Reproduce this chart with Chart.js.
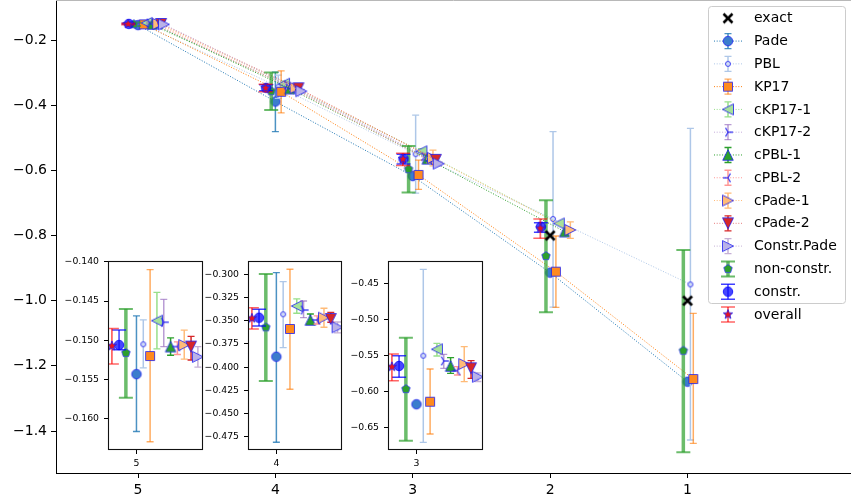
<!DOCTYPE html>
<html>
<head>
<meta charset="utf-8">
<script src="https://cdn.jsdelivr.net/npm/chart.js@4.4.0/dist/chart.umd.min.js"></script>
<style>
  html, body { margin: 0; padding: 0; background: #fff; }
  #wrap { position: relative; width: 851px; height: 504px; overflow: hidden; }
  #wrap canvas { position: absolute; }
</style>
</head>
<body>
<div id="wrap">
  <canvas id="main" width="851" height="504" style="left:0;top:0;width:851px;height:504px"></canvas>
  <canvas id="in5" width="146" height="225" style="left:58px;top:255px;width:146px;height:225px"></canvas>
  <canvas id="in4" width="145" height="225" style="left:198px;top:255px;width:145px;height:225px"></canvas>
  <canvas id="in3" width="146" height="225" style="left:338px;top:255px;width:146px;height:225px"></canvas>
</div>
<script>
// categories (x axis, left to right)
const CATEGORIES = [5, 4, 3, 2, 1];
const MAIN_X_TICKS = [5, 4, 3, 2, 1];
const MAIN_Y_TICKS = [-1.4, -1.2, -1.0, -0.8, -0.6, -0.4, -0.2];
const INSET5_Y_TICKS = [-0.160, -0.155, -0.150, -0.145, -0.140];
const INSET4_Y_TICKS = [-0.475, -0.450, -0.425, -0.400, -0.375, -0.350, -0.325, -0.300];
const INSET3_Y_TICKS = [-0.65, -0.60, -0.55, -0.50, -0.45];

// values per category (5,4,3,2,1); Lo / Hi are the error bar ends
const exactVal = [null, null, null, -0.800, -1.000];

const padeVal = [-0.1543, -0.3888, -0.6176, -0.9140, -1.2487];
const padeLo  = [-0.1616, -0.4810, null, null, null];
const padeHi  = [-0.1469, -0.2983, null, null, null];

const pblVal = [-0.1505, -0.3431, -0.5503, -0.7490, -0.9500];
const pblLo  = [-0.1535, -0.3791, -0.6702, -1.0200, -1.4276];
const pblHi  = [-0.1474, -0.3080, -0.4306, -0.4810, -0.4710];

const kp17Val = [-0.1520, -0.3589, -0.6140, -0.9110, -1.2404];
const kp17Lo  = [-0.1629, -0.4239, -0.6587, -1.0205, -1.4380];
const kp17Hi  = [-0.1410, -0.2946, -0.5687, -0.8015, -1.0390];

const ckp17aVal = [-0.1475, -0.3342, -0.5414, -0.7630, null];
const ckp17aLo  = [-0.1511, -0.3420, -0.5507, null, null];
const ckp17aHi  = [-0.1439, -0.3266, -0.5331, null, null];

const ckp17bVal = [-0.1477, -0.3385, -0.5576, null, null];
const ckp17bLo  = [-0.1508, -0.3468, -0.5677, null, null];
const ckp17bHi  = [-0.1448, -0.3288, -0.5483, null, null];

const cpblaVal = [-0.1508, -0.3492, -0.5645, -0.7880, null];
const cpblaLo  = [-0.1519, -0.3536, -0.5747, null, null];
const cpblaHi  = [-0.1497, -0.3428, -0.5530, null, null];

const cpblbVal = [-0.1508, -0.3492, -0.5710, null, null];
const cpblbLo  = [-0.1518, -0.3536, -0.5770, null, null];
const cpblbHi  = [-0.1502, -0.3449, -0.5655, null, null];

const cpadeaVal = [-0.1506, -0.3468, -0.5618, -0.7830, null];
const cpadeaLo  = [-0.1524, -0.3571, -0.5863, -0.8090, null];
const cpadeaHi  = [-0.1487, -0.3366, -0.5378, -0.7580, null];

const cpadebVal = [-0.1508, -0.3482, -0.5677, null, null];
const cpadebLo  = [-0.1525, -0.3517, -0.5816, null, null];
const cpadebHi  = [-0.1495, -0.3410, -0.5572, null, null];

const constrPadeVal = [-0.1521, -0.3571, -0.5794, null, null];
const constrPadeLo  = [-0.1534, -0.3632, -0.5860, null, null];
const constrPadeHi  = [-0.1508, -0.3514, -0.5740, null, null];

const nonConstrVal = [-0.1516, -0.3571, -0.5964, -0.8630, -1.1535];
const nonConstrLo  = [-0.1573, -0.4150, -0.6680, -1.0357, -1.4654];
const nonConstrHi  = [-0.1460, -0.2997, -0.5253, -0.6920, -0.8445];

const constrVal = [-0.1506, -0.3468, -0.5645, -0.7730, null];
const constrLo  = [-0.1512, -0.3557, -0.5802, -0.7900, null];
const constrHi  = [-0.1487, -0.3377, -0.5503, -0.7610, null];

const overallVal = [-0.1507, -0.3474, -0.5655, -0.7780, null];
const overallLo  = [-0.1530, -0.3589, -0.5849, -0.8086, null];
const overallHi  = [-0.1485, -0.3360, -0.5479, -0.7490, null];

// horizontal spacing of the series around each category
const MAIN_SLOT = 0.021;
const EDGE = 'rgba(30,30,240,0.8)';
const smallErr = c => ({ color: c, width: 1.5, cap: 3.5, capWidth: 1.3 });

const SERIES = [
  { label: 'exact', val: exactVal, marker: { shape: 'x', size: 9, edge: '#000', edgeW: 2.6 }, slotMain: 0, slotInset: 0 },
  { label: 'Pade', val: padeVal, lo: padeLo, hi: padeHi, marker: { shape: 'circle', size: 9.5, fill: '#3b7dcc', edge: EDGE, edgeW: 1 }, err: smallErr('rgba(31,119,180,0.8)'), line: '#1f77b4', slotMain: 0, slotInset: 0 },
  { label: 'PBL', val: pblVal, lo: pblLo, hi: pblHi, marker: { shape: 'circle', size: 5, fill: '#d2def5', edge: EDGE, edgeW: 1 }, err: smallErr('#aec7e8'), line: '#aec7e8', slotMain: 1, slotInset: 1 },
  { label: 'KP17', val: kp17Val, lo: kp17Lo, hi: kp17Hi, marker: { shape: 'square', size: 9, fill: '#ff8a1f', edge: EDGE, edgeW: 1 }, err: smallErr('rgba(255,127,14,0.65)'), line: '#ff7f0e', slotMain: 2, slotInset: 2 },
  { label: 'cKP17-1', val: ckp17aVal, lo: ckp17aLo, hi: ckp17aHi, marker: { shape: 'triL', size: 11, fill: '#a6e29a', edge: EDGE, edgeW: 1 }, err: smallErr('#98df8a'), line: '#98df8a', slotMain: 3, slotInset: 3 },
  { label: 'cKP17-2', val: ckp17bVal, lo: ckp17bLo, hi: ckp17bHi, marker: { shape: 'tri_r', size: 10, edge: EDGE, edgeW: 1.3 }, err: smallErr('rgba(148,103,189,0.65)'), line: 'rgba(148,103,189,0.55)', slotMain: 4, slotInset: 4 },
  { label: 'cPBL-1', val: cpblaVal, lo: cpblaLo, hi: cpblaHi, marker: { shape: 'triU', size: 10.5, fill: '#2ca02c', edge: EDGE, edgeW: 1 }, err: smallErr('#2ca02c'), line: '#2ca02c', slotMain: 5, slotInset: 5 },
  { label: 'cPBL-2', val: cpblbVal, lo: cpblbLo, hi: cpblbHi, marker: { shape: 'tri_l', size: 10, edge: EDGE, edgeW: 1.3 }, err: smallErr('#ff9896'), line: '#ff9896', slotMain: 6, slotInset: 6 },
  { label: 'cPade-1', val: cpadeaVal, lo: cpadeaLo, hi: cpadeaHi, marker: { shape: 'triR', size: 11, fill: '#ffbb78', edge: EDGE, edgeW: 1 }, err: smallErr('#ffbb78'), line: '#ffbb78', slotMain: 7, slotInset: 7 },
  { label: 'cPade-2', val: cpadebVal, lo: cpadebLo, hi: cpadebHi, marker: { shape: 'triD', size: 11, fill: '#d62728', edge: EDGE, edgeW: 1 }, err: smallErr('#d62728'), line: 'rgba(214,39,40,0.6)', slotMain: 8, slotInset: 8 },
  { label: 'Constr.Pade', val: constrPadeVal, lo: constrPadeLo, hi: constrPadeHi, marker: { shape: 'triR', size: 11, fill: '#bab2e8', edge: EDGE, edgeW: 1 }, err: smallErr('#c5b0d5'), line: '#c5b0d5', slotMain: 9, slotInset: 9 },
  { label: 'non-constr.', val: nonConstrVal, lo: nonConstrLo, hi: nonConstrHi, marker: { shape: 'pent', size: 9, fill: '#2ca02c', edge: 'rgba(60,60,255,0.75)', edgeW: 1 }, err: { color: 'rgba(44,160,44,0.7)', width: 3.5, cap: 7, capWidth: 2 }, slotMain: -1.45, slotInset: -1.55 },
  { label: 'constr.', val: constrVal, lo: constrLo, hi: constrHi, marker: { shape: 'circle', size: 9.5, fill: 'rgba(10,10,255,0.75)', edge: 'rgba(0,0,255,0.8)', edgeW: 1 }, err: { color: 'rgba(0,0,255,0.75)', width: 1.5, cap: 7, capWidth: 1.5 }, slotMain: -3.2, slotInset: -2.55 },
  { label: 'overall', val: overallVal, lo: overallLo, hi: overallHi, marker: { shape: 'star', size: 10, fill: '#e8141e', edge: EDGE, edgeW: 1 }, err: { color: 'rgba(255,0,0,0.6)', width: 1.8, cap: 7, capWidth: 1.5 }, slotMain: -3.4, slotInset: -3.6 },
];

Chart.defaults.font.family = "'DejaVu Sans', sans-serif";
Chart.defaults.color = '#000';

// marker glyphs drawn once on small canvases and used as point styles
function markerCanvas(m) {
  const r = m.size / 2;
  let s = Math.ceil(m.size + (m.edgeW || 0) * 2 + 4);
  if (s % 2) s++;
  const c = document.createElement('canvas');
  c.width = s; c.height = s;
  const g = c.getContext('2d');
  g.translate(s / 2, s / 2);
  g.beginPath();
  const poly = pts => { pts.forEach((p, i) => i ? g.lineTo(p[0], p[1]) : g.moveTo(p[0], p[1])); g.closePath(); };
  const spoke = (a, b) => { g.moveTo(0, 0); g.lineTo(a, b); };
  switch (m.shape) {
    case 'circle': g.arc(0, 0, r, 0, Math.PI * 2); break;
    case 'square': g.rect(-r, -r, 2 * r, 2 * r); break;
    case 'triU': poly([[0, -r], [r, r], [-r, r]]); break;
    case 'triD': poly([[0, r], [r, -r], [-r, -r]]); break;
    case 'triL': poly([[-r, 0], [r, -r], [r, r]]); break;
    case 'triR': poly([[r, 0], [-r, -r], [-r, r]]); break;
    case 'pent': poly([0, 1, 2, 3, 4].map(i => [r * Math.sin(i * 2 * Math.PI / 5), -r * Math.cos(i * 2 * Math.PI / 5)])); break;
    case 'star': poly([...Array(10)].map((_, i) => {
      const rr = i % 2 ? r * 0.42 : r, a = i * Math.PI / 5;
      return [rr * Math.sin(a), -rr * Math.cos(a)];
    })); break;
    case 'x': g.moveTo(-r, -r); g.lineTo(r, r); g.moveTo(-r, r); g.lineTo(r, -r); break;
    case 'tri_r': spoke(r, 0); spoke(-r * 0.5, -r * 0.866); spoke(-r * 0.5, r * 0.866); break;
    case 'tri_l': spoke(-r, 0); spoke(r * 0.5, -r * 0.866); spoke(r * 0.5, r * 0.866); break;
  }
  if (m.fill) { g.fillStyle = m.fill; g.fill(); }
  if (m.edge) { g.strokeStyle = m.edge; g.lineWidth = m.edgeW; g.stroke(); }
  return c;
}
SERIES.forEach(s => { s.img = markerCanvas(s.marker); });

function minusFmt(dec) {
  return v => (v < 0 ? '\u2212' : '') + Math.abs(v).toFixed(dec);
}

function buildDatasets(inset, catIdx) {
  return SERIES.map((s, i) => {
    const pts = [];
    CATEGORIES.forEach((n, j) => {
      if (inset && j !== catIdx) return;
      if (s.val[j] == null) return;
      pts.push({
        x: inset ? s.slotInset : n - s.slotMain * MAIN_SLOT,
        y: s.val[j],
        lo: s.lo ? s.lo[j] : null,
        hi: s.hi ? s.hi[j] : null,
      });
    });
    const ds = {
      label: s.label,
      data: pts,
      order: s.label === 'exact' ? -1 : 100 - i,
      showLine: !inset && !!s.line,
      borderColor: s.line || 'transparent',
      borderWidth: 1,
      borderDash: [1, 1.7],
      pointStyle: s.img,
      pointRadius: 5,
      pointHoverRadius: 5,
      errStyle: s.err || null,
    };
    if (inset) ds.clip = 0;
    return ds;
  });
}

// error bars, drawn just before each dataset so the stacking follows the series order
const errorBarPlugin = {
  id: 'errorBars',
  beforeDatasetDraw(chart, args) {
    const ds = chart.data.datasets[args.index];
    const st = ds.errStyle;
    if (!st) return;
    const ctx = chart.ctx, ys = chart.scales.y, a = chart.chartArea;
    ctx.save();
    ctx.beginPath();
    ctx.rect(a.left, a.top, a.right - a.left, a.bottom - a.top);
    ctx.clip();
    ctx.strokeStyle = st.color;
    args.meta.data.forEach((pt, k) => {
      const d = ds.data[k];
      if (d.lo == null || d.hi == null) return;
      const y1 = ys.getPixelForValue(d.hi), y2 = ys.getPixelForValue(d.lo);
      ctx.lineWidth = st.width;
      ctx.beginPath();
      ctx.moveTo(pt.x, y1); ctx.lineTo(pt.x, y2);
      ctx.stroke();
      ctx.lineWidth = st.capWidth;
      ctx.beginPath();
      ctx.moveTo(pt.x - st.cap, y1); ctx.lineTo(pt.x + st.cap, y1);
      ctx.moveTo(pt.x - st.cap, y2); ctx.lineTo(pt.x + st.cap, y2);
      ctx.stroke();
    });
    ctx.restore();
  },
};

const mainFrame = {
  id: 'mainFrame',
  beforeDraw(chart) {
    const ctx = chart.ctx;
    ctx.save();
    ctx.fillStyle = '#fff';
    ctx.fillRect(0, 0, chart.width, chart.height);
    ctx.restore();
  },
  afterDraw(chart) {
    const ctx = chart.ctx, a = chart.chartArea;
    ctx.save();
    ctx.strokeStyle = '#b8b8b8';
    ctx.lineWidth = 1;
    ctx.beginPath();
    ctx.moveTo(a.left, 0.5); ctx.lineTo(a.right, 0.5);
    ctx.stroke();
    ctx.restore();
  },
};

const insetFrame = {
  id: 'insetFrame',
  beforeDraw(chart) {
    const ctx = chart.ctx, a = chart.chartArea;
    ctx.save();
    ctx.fillStyle = '#fff';
    ctx.fillRect(a.left, a.top, a.right - a.left, a.bottom - a.top);
    ctx.restore();
  },
  afterDraw(chart) {
    const ctx = chart.ctx, a = chart.chartArea;
    ctx.save();
    ctx.strokeStyle = '#111';
    ctx.lineWidth = 1.1;
    ctx.strokeRect(Math.round(a.left) + 0.5, Math.round(a.top) + 0.5,
      Math.round(a.right - a.left) - 1, Math.round(a.bottom - a.top) - 1);
    ctx.restore();
  },
};

const legendPlugin = {
  id: 'legendBox',
  afterDraw(chart) {
    const ctx = chart.ctx;
    ctx.save();
    ctx.beginPath();
    if (ctx.roundRect) ctx.roundRect(708.5, 6.5, 137, 297, 3);
    else ctx.rect(708.5, 6.5, 137, 297);
    ctx.fillStyle = 'rgba(255,255,255,0.8)';
    ctx.fill();
    ctx.strokeStyle = '#cccccc';
    ctx.lineWidth = 1;
    ctx.stroke();
    ctx.font = "14px 'DejaVu Sans'";
    ctx.textBaseline = 'middle';
    ctx.fillStyle = '#000';
    SERIES.forEach((s, i) => {
      const y = 18.3 + i * 22.78, x = 728;
      if (s.line) {
        ctx.strokeStyle = s.line;
        ctx.lineWidth = 1;
        ctx.setLineDash([1, 1.7]);
        ctx.beginPath(); ctx.moveTo(714, y); ctx.lineTo(742, y); ctx.stroke();
        ctx.setLineDash([]);
      }
      if (s.err) {
        const e = s.err;
        ctx.strokeStyle = e.color;
        ctx.lineWidth = e.width;
        ctx.beginPath(); ctx.moveTo(x, y - 7.5); ctx.lineTo(x, y + 7.5); ctx.stroke();
        ctx.lineWidth = e.capWidth;
        ctx.beginPath();
        ctx.moveTo(x - e.cap, y - 7.5); ctx.lineTo(x + e.cap, y - 7.5);
        ctx.moveTo(x - e.cap, y + 7.5); ctx.lineTo(x + e.cap, y + 7.5);
        ctx.stroke();
      }
      ctx.drawImage(s.img, x - s.img.width / 2, y - s.img.height / 2);
      ctx.fillText(s.label, 754, y + 0.5);
    });
    ctx.restore();
  },
};

const tickGrid = len => ({ display: true, drawOnChartArea: false, drawTicks: true, tickLength: len, color: '#000', lineWidth: 1 });

new Chart(document.getElementById('main'), {
  type: 'scatter',
  data: { datasets: buildDatasets(false) },
  options: {
    responsive: false,
    animation: false,
    events: [],
    layout: { autoPadding: false, padding: { top: 1, right: 0, bottom: 0, left: 0 } },
    plugins: { legend: { display: false }, tooltip: { enabled: false } },
    scales: {
      x: {
        type: 'linear', reverse: true, min: -0.19, max: 5.597,
        afterBuildTicks: s => { s.ticks = MAIN_X_TICKS.map(v => ({ value: v })); },
        afterFit: s => { s.height = 31; s.paddingLeft = 0; s.paddingRight = 0; },
        ticks: { callback: v => String(v), font: { size: 14 }, color: '#000', padding: 4, autoSkip: false, maxRotation: 0 },
        grid: tickGrid(5),
        border: { display: true, color: '#000', width: 1 },
      },
      y: {
        type: 'linear', min: -1.5288, max: -0.0803,
        afterBuildTicks: s => { s.ticks = MAIN_Y_TICKS.map(v => ({ value: v })); },
        afterFit: s => { s.width = 56; s.paddingTop = 0; s.paddingBottom = 0; },
        ticks: { callback: minusFmt(1), font: { size: 14 }, color: '#000', padding: 4, autoSkip: false },
        grid: tickGrid(5),
        border: { display: true, color: '#000', width: 1 },
      },
    },
  },
  plugins: [mainFrame, errorBarPlugin, legendPlugin],
});

function makeInset(id, catIdx, yTicks, yMin, yMax, dec, xMax) {
  new Chart(document.getElementById(id), {
    type: 'scatter',
    data: { datasets: buildDatasets(true, catIdx) },
    options: {
      responsive: false,
      animation: false,
      events: [],
      layout: { autoPadding: false, padding: { top: 6, right: 1, bottom: 0, left: 0 } },
      plugins: { legend: { display: false }, tooltip: { enabled: false } },
      scales: {
        x: {
          type: 'linear', min: -4.17, max: xMax,
          afterBuildTicks: s => { s.ticks = [{ value: 0 }]; },
          afterFit: s => { s.height = 30; s.paddingLeft = 0; s.paddingRight = 0; },
          ticks: { callback: () => String(CATEGORIES[catIdx]), font: { size: 9.3 }, color: '#000', padding: 4, autoSkip: false, maxRotation: 0 },
          grid: tickGrid(4),
          border: { display: false },
        },
        y: {
          type: 'linear', min: yMin, max: yMax,
          afterBuildTicks: s => { s.ticks = yTicks.map(v => ({ value: v })); },
          afterFit: s => { s.width = 50; s.paddingTop = 0; s.paddingBottom = 0; },
          ticks: { callback: minusFmt(dec), font: { size: 9.3 }, color: '#000', padding: 5, autoSkip: false },
          grid: tickGrid(4),
          border: { display: false },
        },
      },
    },
    plugins: [insetFrame, errorBarPlugin],
  });
}

makeInset('in5', 0, INSET5_Y_TICKS, -0.16395, -0.13991, 3, 9.75);
makeInset('in4', 1, INSET4_Y_TICKS, -0.48933, -0.28570, 3, 9.65);
makeInset('in3', 2, INSET3_Y_TICKS, -0.68088, -0.41911, 2, 9.75);
</script>
</body>
</html>
